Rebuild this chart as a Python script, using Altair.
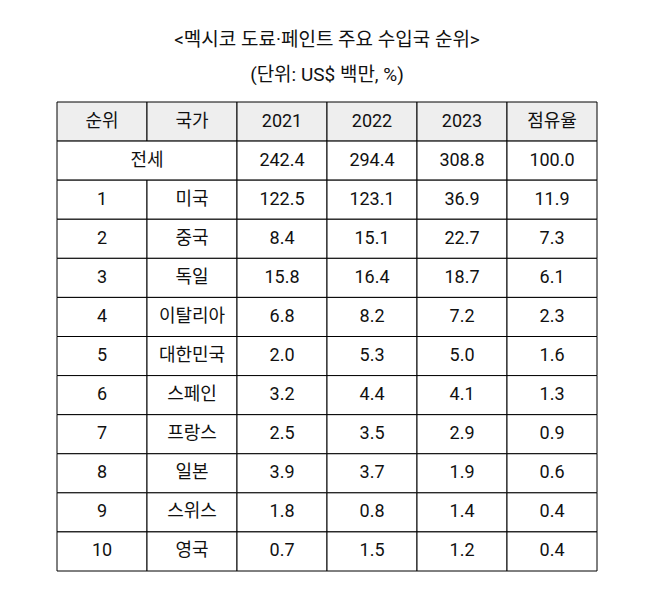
import altair as alt
import pandas as pd

title_text = "<멕시코 도료·페인트 주요 수입국 순위>"
subtitle_text = "(단위: US$ 백만, %)"
headers = ["순위", "국가", "2021", "2022", "2023", "점유율"]
total_label = "전세"
total_vals = [242.4, 294.4, 308.8, 100.0]
ranks = ["1", "2", "3", "4", "5", "6", "7", "8", "9", "10"]
countries = ["미국", "중국", "독일", "이탈리아", "대한민국", "스페인", "프랑스", "일본", "스위스", "영국"]
v2021 = [122.5, 8.4, 15.8, 6.8, 2.0, 3.2, 2.5, 3.9, 1.8, 0.7]
v2022 = [123.1, 15.1, 16.4, 8.2, 5.3, 4.4, 3.5, 3.7, 0.8, 1.5]
v2023 = [36.9, 22.7, 18.7, 7.2, 5.0, 4.1, 2.9, 1.9, 1.4, 1.2]
share = [11.9, 7.3, 6.1, 2.3, 1.6, 1.3, 0.9, 0.6, 0.4, 0.4]

cells = []
for c, h in enumerate(headers):
    cells.append(dict(c0=c, c1=c + 1, r=0, label=h, fill="#eeeeee"))
cells.append(dict(c0=0, c1=2, r=1, label=total_label, fill="#ffffff"))
for j, v in enumerate(total_vals):
    cells.append(dict(c0=2 + j, c1=3 + j, r=1, label=f"{v:.1f}", fill="#ffffff"))
for i in range(len(ranks)):
    row = [ranks[i], countries[i], f"{v2021[i]:.1f}", f"{v2022[i]:.1f}",
           f"{v2023[i]:.1f}", f"{share[i]:.1f}"]
    for c, lab in enumerate(row):
        cells.append(dict(c0=c, c1=c + 1, r=2 + i, label=lab, fill="#ffffff"))

df = pd.DataFrame(cells)
df["r1"] = df["r"] + 1
df["cx"] = (df["c0"] + df["c1"]) / 2
df["cy"] = df["r"] + 0.5

W, H = 540, 469
xs = alt.Scale(domain=[0, 6], range=[0, W])
ys = alt.Scale(domain=[0, 12], range=[0, H])
FONT = "Roboto, Noto Sans CJK KR, sans-serif"

base = alt.Chart(df)
rects = base.mark_rect(stroke="#000000", strokeWidth=1).encode(
    x=alt.X("c0:Q", scale=xs, axis=None),
    x2="c1:Q",
    y=alt.Y("r:Q", scale=ys, axis=None),
    y2="r1:Q",
    fill=alt.Fill("fill:N", scale=None),
)
texts = base.mark_text(fontSize=18, font=FONT, color="#111111", baseline="middle", align="center").encode(
    x=alt.X("cx:Q", scale=xs, axis=None),
    y=alt.Y("cy:Q", scale=ys, axis=None),
    text="label:N",
)

tdf = pd.DataFrame({"t": [title_text, subtitle_text], "yy": [-62, -27]})
titles = alt.Chart(tdf).mark_text(fontSize=19, font=FONT, color="#111111", baseline="middle",
                                  align="center").encode(
    x=alt.value(W / 2),
    y=alt.Y("yy:Q", scale=None),
    text="t:N",
)

chart = alt.layer(rects, texts, titles).properties(
    width=W, height=H,
    autosize=alt.AutoSizeParams(type="none"),
    padding={"left": 49, "top": 94, "right": 45, "bottom": 30},
).configure_view(stroke=None)

chart.save("out.html", embed_options={"renderer": "svg", "actions": False})
